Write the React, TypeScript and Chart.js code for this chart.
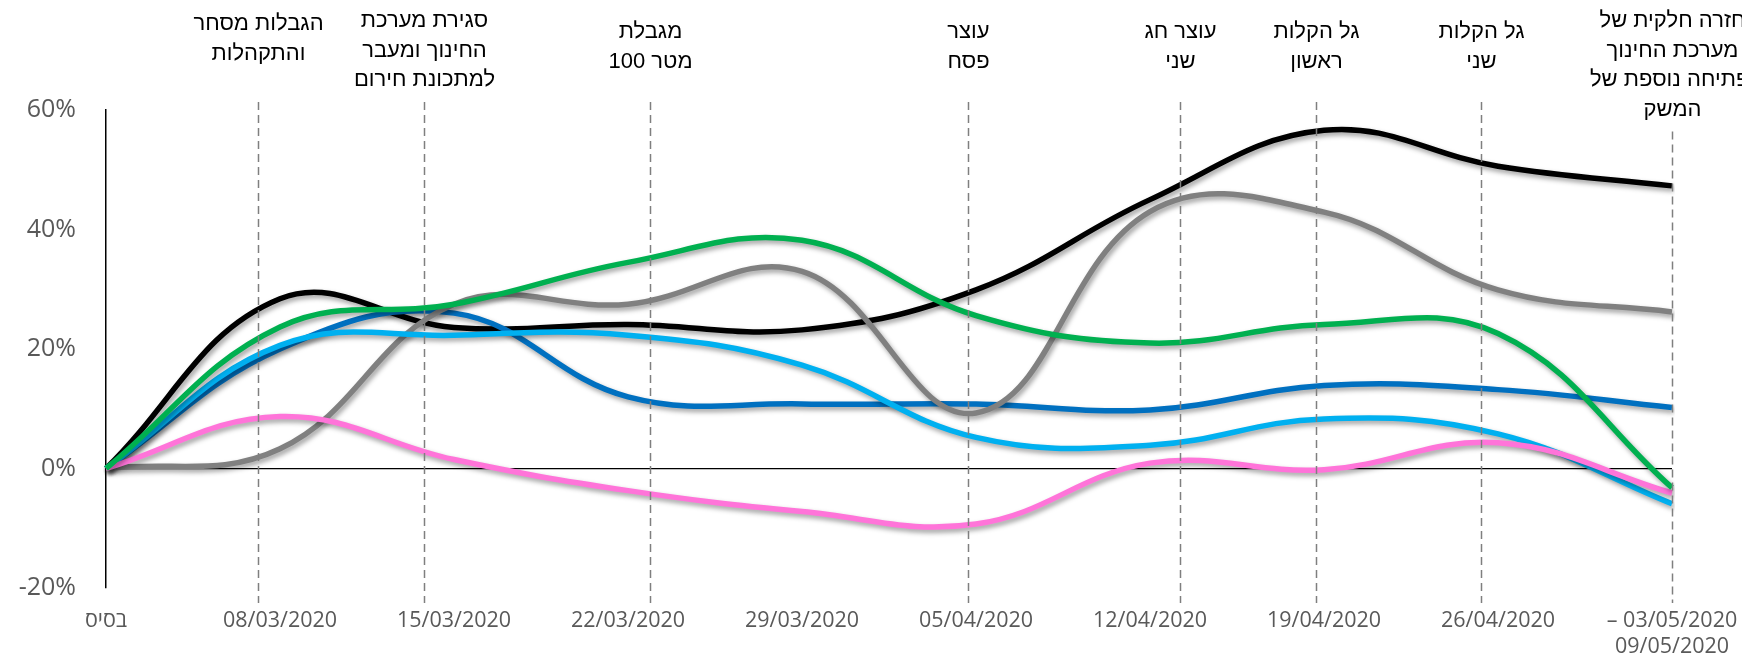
import React, { useEffect, useRef } from "react";
import { Chart, registerables } from "chart.js";

Chart.register(...registerables);

// ---- Data ----
const categories: (string | string[])[] = [
  "בסיס",
  "08/03/2020",
  "15/03/2020",
  "22/03/2020",
  "29/03/2020",
  "05/04/2020",
  "12/04/2020",
  "19/04/2020",
  "26/04/2020",
  ["– 03/05/2020", "09/05/2020"],
];

const seriesBlack = [0, 28.4, 23.6, 24.1, 23.2, 29.9, 45.0, 56.6, 50.6, 47.3];
const seriesGrey = [0, 3.3, 27.5, 27.5, 33.0, 9.3, 43.0, 42.9, 29.9, 26.2];
const seriesGreen = [0, 23.7, 27.5, 34.5, 38.2, 25.6, 21.0, 24.1, 22.6, -3.2];
const seriesDarkBlue = [0, 20.0, 26.0, 12.0, 10.8, 10.8, 9.8, 13.9, 13.2, 10.2];
const seriesLightBlue = [0, 20.6, 22.3, 22.3, 17.3, 5.2, 3.9, 8.3, 5.8, -5.9];
const seriesPink = [0, 8.7, 1.5, -3.7, -7.2, -9.3, 0.9, -0.2, 4.3, -4.1];

const yMin = -20;
const yMax = 60;
const yStep = 20;

// event markers: position expressed as fractional category index
const eventPositions = [0.874, 1.828, 3.126, 4.954, 6.172, 6.954, 7.902, 9];
const eventLabels: string[][] = [
  ["הגבלות מסחר", "והתקהלות"],
  ["סגירת מערכת", "החינוך ומעבר", "למתכונת חירום"],
  ["מגבלת", "100 מטר"],
  ["עוצר", "פסח"],
  ["עוצר חג", "שני"],
  ["גל הקלות", "ראשון"],
  ["גל הקלות", "שני"],
  ["חזרה חלקית של", "מערכת החינוך", "ופתיחה נוספת של", "המשק"],
];

const shadowPlugin = {
  id: "lineShadow",
  beforeDatasetDraw(chart: any) {
    const ctx = chart.ctx;
    ctx.save();
    ctx.shadowColor = "rgba(0,0,0,0.38)";
    ctx.shadowBlur = 5;
    ctx.shadowOffsetX = 2;
    ctx.shadowOffsetY = 3;
  },
  afterDatasetDraw(chart: any) {
    chart.ctx.restore();
  },
};

const eventsPlugin = {
  id: "events",
  afterDatasetsDraw(chart: any) {
    const ctx = chart.ctx;
    const xs = chart.scales.x;
    const bottom = chart.chartArea.bottom + 15;
    const lineH = 29.5;
    ctx.save();
    eventPositions.forEach((pos, i) => {
      const x = Math.round(xs.getPixelForValue(pos)) + 0.5;
      const lines = eventLabels[i];
      const startY = lines.length >= 3 ? 21 : i === 0 ? 24 : 32;
      const lastLineY = startY + (lines.length - 1) * lineH;
      const top = Math.max(102, lastLineY + 22);
      ctx.setLineDash([8, 5]);
      ctx.strokeStyle = "#7f7f7f";
      ctx.lineWidth = 1.5;
      ctx.beginPath();
      ctx.moveTo(x, top);
      ctx.lineTo(x, bottom);
      ctx.stroke();
      ctx.setLineDash([]);
      ctx.fillStyle = "#000";
      ctx.font = '22px "Liberation Sans"';
      ctx.direction = "ltr";
      ctx.textAlign = "center";
      ctx.textBaseline = "middle";
      lines.forEach((t, k) => {
        ctx.fillText(t, x, startY + k * lineH);
      });
    });
    ctx.restore();
  },
};

export default function App() {
  const ref = useRef<HTMLCanvasElement | null>(null);

  useEffect(() => {
    document.body.style.margin = "0";
    const canvas = ref.current;
    if (!canvas) return;
    const mk = (label: string, data: number[], color: string, order: number) => ({
      label,
      data,
      borderColor: color,
      backgroundColor: color,
      borderWidth: 5.5,
      pointRadius: 0,
      tension: 0.4,
      fill: false,
      order,
    });
    const chart = new Chart(canvas, {
      type: "line",
      data: {
        labels: categories,
        datasets: [
          mk("סדרה 1", seriesGreen, "#00B050", 1),
          mk("סדרה 2", seriesPink, "#FF74D9", 2),
          mk("סדרה 3", seriesLightBlue, "#00B0F0", 3),
          mk("סדרה 4", seriesGrey, "#808080", 4),
          mk("סדרה 5", seriesDarkBlue, "#0070C0", 5),
          mk("סדרה 6", seriesBlack, "#000000", 6),
        ],
      },
      options: {
        animation: false,
        responsive: false,
        devicePixelRatio: 1,
        layout: {
          autoPadding: false,
          padding: { top: 110, right: 70, bottom: 0, left: 0 },
        },
        plugins: {
          legend: { display: false },
          tooltip: { enabled: false },
        },
        scales: {
          x: {
            type: "category",
            offset: false,
            grid: { display: false, drawTicks: false },
            border: { display: false },
            ticks: {
              autoSkip: false,
              maxRotation: 0,
              minRotation: 0,
              padding: 20,
              color: "#595959",
              font: { family: "Open Sans", size: 21.5, lineHeight: 1.2 },
            },
            afterFit: (s: any) => {
              s.height = 67;
              s.paddingRight = 70;
              s.paddingLeft = 0;
            },
          },
          y: {
            min: yMin,
            max: yMax,
            ticks: {
              stepSize: yStep,
              padding: 30,
              color: "#595959",
              font: { family: "Open Sans", size: 25 },
              callback: (v: any) => `${v}%`,
            },
            grid: {
              drawTicks: false,
              lineWidth: 1.2,
              color: (c: any) => (c.tick && c.tick.value === 0 ? "#000000" : "rgba(0,0,0,0)"),
            },
            border: { display: true, color: "#000000", width: 1.5 },
            afterFit: (s: any) => {
              s.width = 106;
            },
          },
        },
      },
      plugins: [shadowPlugin, eventsPlugin],
    } as any);
    return () => chart.destroy();
  }, []);

  return (
    <div style={{ width: 1742, height: 655 }}>
      <canvas ref={ref} width={1742} height={655} style={{ display: "block" }} />
    </div>
  );
}
